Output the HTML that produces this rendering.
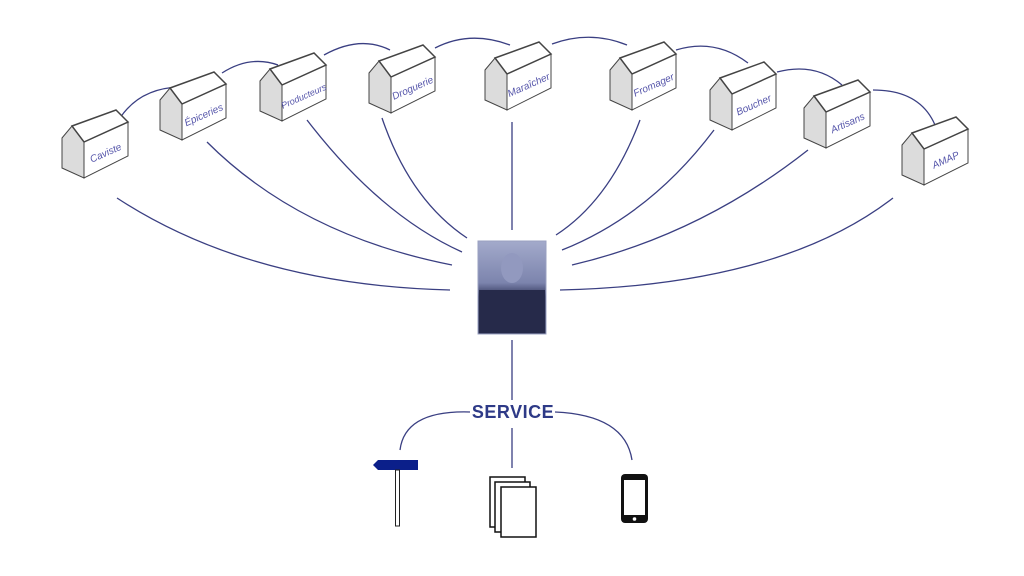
<!DOCTYPE html>
<html><head><meta charset="utf-8"><style>
html,body{margin:0;padding:0;background:#fff;}
svg{display:block;}
text{font-family:"Liberation Sans",sans-serif;}
</style></head><body>
<svg width="1024" height="576" viewBox="0 0 1024 576" xmlns="http://www.w3.org/2000/svg">
<defs>
<g id="h">
<polygon points="0,28 10,16 22,32 22,68 0,58" fill="#dcdcdc" stroke="#444" stroke-width="1"/>
<polygon points="22,32 66,12 66,46 22,68" fill="#fff" stroke="#444" stroke-width="1"/>
<polygon points="10,16 54,0 66,12 22,32" fill="#fff" stroke="#444" stroke-width="1.5"/>
</g>
<linearGradient id="ph" x1="0" y1="0" x2="0" y2="1">
<stop offset="0" stop-color="#a3aacb"/><stop offset="0.45" stop-color="#7c84ad"/><stop offset="0.6" stop-color="#2e3358"/><stop offset="1" stop-color="#2a2f52"/>
</linearGradient>
</defs>
<g fill="none" stroke="#3a3f82" stroke-width="1.3">
<path d="M120,118 Q140,88 180,87"/>
<path d="M222,73 Q250,55 278,65"/>
<path d="M324,55 Q360,35 390,50"/>
<path d="M435,48 Q470,30 510,45"/>
<path d="M552,44 Q590,30 627,45"/>
<path d="M676,50 Q715,38 748,63"/>
<path d="M777,72 Q815,62 842,85"/>
<path d="M873,90 Q920,90 935,125"/>
<path d="M117,198 Q250,285 450,290"/>
<path d="M207,142 Q300,235 452,265"/>
<path d="M307,120 Q380,215 462,252"/>
<path d="M382,118 Q410,200 467,238"/>
<path d="M512,122 L512,230"/>
<path d="M640,120 Q610,200 556,235"/>
<path d="M714,130 Q650,215 562,250"/>
<path d="M808,150 Q700,235 572,265"/>
<path d="M893,198 Q780,285 560,290"/>
<path d="M512,340 L512,400"/>
<path d="M470,412 Q405,410 400,450"/>
<path d="M555,412 Q625,415 632,460"/>
<path d="M512,428 L512,468"/>
</g>
<g fill="#5555aa" font-size="10" font-style="italic" text-anchor="middle">
<g transform="translate(62,110)"><use href="#h"/><text x="45" y="46" transform="rotate(-24 45 46)">Caviste</text></g>
<g transform="translate(160,72)"><use href="#h"/><text x="45" y="46" transform="rotate(-24 45 46)">Épiceries</text></g>
<g transform="translate(260,53)"><use href="#h"/><text x="45" y="46" font-size="9" transform="rotate(-24 45 46)">Producteurs</text></g>
<g transform="translate(369,45)"><use href="#h"/><text x="45" y="46" transform="rotate(-24 45 46)">Droguerie</text></g>
<g transform="translate(485,42)"><use href="#h"/><text x="45" y="46" transform="rotate(-24 45 46)">Maraîcher</text></g>
<g transform="translate(610,42)"><use href="#h"/><text x="45" y="46" transform="rotate(-24 45 46)">Fromager</text></g>
<g transform="translate(710,62)"><use href="#h"/><text x="45" y="46" transform="rotate(-24 45 46)">Boucher</text></g>
<g transform="translate(804,80)"><use href="#h"/><text x="45" y="46" transform="rotate(-24 45 46)">Artisans</text></g>
<g transform="translate(902,117)"><use href="#h"/><text x="45" y="46" transform="rotate(-24 45 46)">AMAP</text></g>
</g>
<rect x="478" y="241" width="68" height="93" fill="url(#ph)" stroke="#9aa0c0"/>
<ellipse cx="512" cy="268" rx="11" ry="15" fill="#9299bf"/>
<rect x="479" y="290" width="66" height="43" fill="#262a4a"/>
<text x="513" y="418" text-anchor="middle" font-size="18" font-weight="bold" fill="#2e3a87" letter-spacing="0.5">SERVICE</text>
<polygon points="373,465 378,460 418,460 418,470 378,470" fill="#0b1f8a"/>
<rect x="395.5" y="470" width="4" height="56" fill="#fff" stroke="#222" stroke-width="1"/>
<rect x="490" y="477" width="35" height="50" fill="#fff" stroke="#111" stroke-width="1.5"/>
<rect x="495" y="482" width="35" height="50" fill="#fff" stroke="#111" stroke-width="1.5"/>
<rect x="501" y="487" width="35" height="50" fill="#fff" stroke="#111" stroke-width="1.5"/>
<rect x="621" y="474" width="27" height="49" rx="4" fill="#111"/>
<rect x="624" y="480" width="21" height="35" fill="#fff"/>
<circle cx="634.5" cy="519" r="1.8" fill="#fff"/>
</svg>
</body></html>
